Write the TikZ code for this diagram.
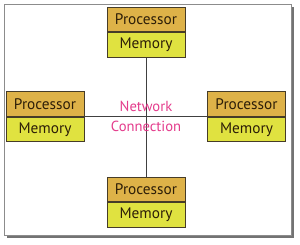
\documentclass[tikz,border=0pt]{standalone}
\usepackage{fontspec}
\setmainfont{PT Sans}
\definecolor{proc}{RGB}{222,178,72}
\definecolor{mem}{RGB}{224,226,64}
\definecolor{edge}{RGB}{70,60,40}
\definecolor{txt}{RGB}{45,30,8}
\definecolor{net}{RGB}{228,60,140}
\begin{document}
\begin{tikzpicture}[x=1pt,y=-1pt,
  part/.style={draw=edge,line width=0.9pt,minimum width=78pt,minimum height=24.5pt,inner sep=0pt,text=txt,font=\fontsize{15.3}{17}\selectfont},
  procpart/.style={part,fill=proc},
  mempart/.style={part,fill=mem},
  link/.style={draw=black!75,line width=1pt}]
\useasboundingbox (0,0) rectangle (300,244);
\fill[black!55] (6.5,6.5) rectangle (293.5,237.5);
\draw[black!45,fill=white,line width=0.6pt] (4,4) rectangle (291,235);
% top
\node[procpart] (tp) at (146,19.5) {Processor};
\node[mempart,anchor=north] (tm) at (tp.south) {Memory};
% left
\node[procpart] (lp) at (45,104) {Processor};
\node[mempart,anchor=north] (lm) at (lp.south) {Memory};
% right
\node[procpart] (rp) at (246.5,104) {Processor};
\node[mempart,anchor=north] (rm) at (rp.south) {Memory};
% bottom
\node[procpart] (bp) at (146,189.5) {Processor};
\node[mempart,anchor=north] (bm) at (bp.south) {Memory};
\draw[link] (tm.south) -- (bp.north);
\draw[link] (lp.south east) -- (rp.south west);
\node[text=net,align=center,font=\fontsize{14.6}{20}\selectfont] (nc) at (146,116) {Network\\Connection};
\end{tikzpicture}
\end{document}
